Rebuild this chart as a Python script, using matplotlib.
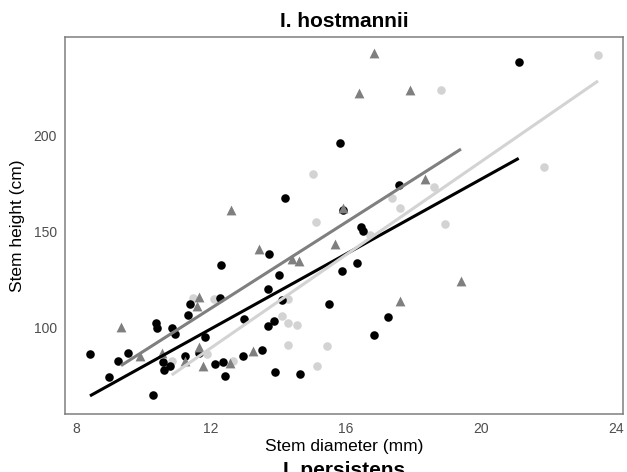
import matplotlib
matplotlib.use("Agg")
import matplotlib.pyplot as plt
import numpy as np

plt.rcParams['font.family'] = ['Liberation Sans', 'DejaVu Sans']

# Group A (black circles)
black_x = [15.83, 14.20, 21.12, 17.56, 15.93, 16.46, 16.50, 13.73, 12.30, 14.03,
           15.89, 13.70, 11.38, 12.27, 14.11, 11.32, 12.99, 15.51, 10.39, 10.41,
           10.86, 10.95, 11.83, 13.70, 13.88, 8.42, 9.26, 9.55, 8.97, 10.59,
           10.79, 10.61, 11.24, 11.66, 12.13, 12.36, 12.41, 12.96, 13.51, 10.28,
           13.91, 14.64, 16.32, 17.24, 16.84]
black_y = [196, 167.5, 238, 174.1, 161.1, 152.5, 150.3, 138.3, 132.5, 127.6,
           129.5, 120.2, 112.6, 115.7, 114.5, 106.6, 104.7, 112.6, 102.4, 99.8,
           99.8, 96.7, 95.5, 101, 103.6, 86.4, 83, 86.9, 74.5, 82.5,
           80.5, 78.2, 85.6, 86.9, 81.3, 82.2, 75.3, 85.6, 88.6, 65.3,
           77.4, 76.3, 133.5, 105.5, 96.4]

# Group B (gray triangles)
gray_x = [12.59, 15.91, 16.84, 16.40, 17.91, 18.34, 13.44, 15.69, 14.41, 14.62,
          11.64, 11.58, 9.34, 9.90, 10.55, 11.23, 11.64, 11.76, 12.56, 13.26,
          19.41, 17.61]
gray_y = [161, 162.2, 242.6, 221.9, 223.3, 177, 140.9, 143.5, 135.6, 134.7,
          116.2, 111.4, 100.7, 85.5, 87.2, 82.9, 90.2, 80.5, 81.7, 88.2,
          124.4, 114]

# Group C (light gray circles)
light_x = [15.02, 15.12, 23.47, 18.83, 21.87, 18.62, 17.38, 17.61, 18.95, 11.48,
           12.09, 14.28, 14.11, 14.28, 14.55, 10.84, 11.88, 12.65, 14.30, 15.43,
           15.14, 16.72]
light_y = [179.8, 154.9, 241.3, 223.2, 183.4, 173.2, 167.5, 162, 153.7, 115.7,
           115, 115, 106.4, 102.7, 101.6, 82.7, 86.5, 82.7, 91.2, 90.7,
           80.3, 148.2]

# Fitted line endpoints
black_fit_x = [8.42, 21.12]
black_fit_y = [64.8, 187.9]
gray_fit_x = [9.34, 19.41]
gray_fit_y = [80.5, 192.7]
light_fit_x = [10.84, 23.47]
light_fit_y = [75.6, 228.0]

x_ticks = [8, 12, 16, 20, 24]
y_ticks = [100, 150, 200]

BLACK = '#000000'
GRAY = '#7f7f7f'
LIGHT = '#d3d3d3'

fig = plt.figure(figsize=(6.27, 4.72), dpi=100)
ax = fig.add_axes([65/627, 1-414/472, (623-65)/627, (414-37)/472])

ax.scatter(light_x, light_y, s=38, color=LIGHT, marker='o', linewidths=0, zorder=2)
ax.scatter(black_x, black_y, s=38, color=BLACK, marker='o', linewidths=0, zorder=2)
ax.scatter(gray_x, gray_y, s=50, color=GRAY, marker='^', linewidths=0, zorder=2)

ax.plot(black_fit_x, black_fit_y, color=BLACK, lw=2.2, solid_capstyle='butt', zorder=3)
ax.plot(gray_fit_x, gray_fit_y, color=GRAY, lw=2.2, solid_capstyle='butt', zorder=3)
ax.plot(light_fit_x, light_fit_y, color=LIGHT, lw=2.2, solid_capstyle='butt', zorder=3)

ax.set_xlim(7.68, 24.21)
ax.set_ylim(55.4, 250.8)
ax.set_xticks(x_ticks)
ax.set_yticks(y_ticks)
ax.tick_params(length=0, labelsize=10, labelcolor='#4d4d4d', pad=6)
for sp in ax.spines.values():
    sp.set_color('#7f7f7f')
    sp.set_linewidth(1.1)

ax.set_xlabel('Stem diameter (mm)', fontsize=12.5, labelpad=2)
ax.set_ylabel('Stem height (cm)', fontsize=12.5, labelpad=6)
ax.set_title('I. hostmannii', fontsize=15, fontweight='bold', pad=7)

fig.text(0.548, 1 - 461/472, 'I. persistens', ha='center', va='top',
         fontsize=15, fontweight='bold')

fig.savefig('out.png', dpi=100)
